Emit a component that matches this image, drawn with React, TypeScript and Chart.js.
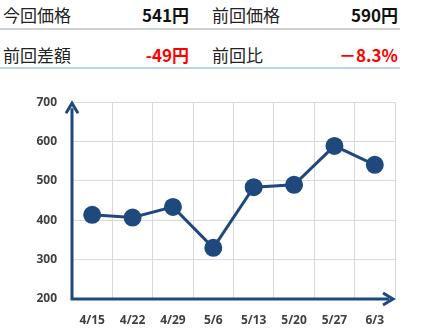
import React, { useEffect, useRef } from "react";
import { Chart, registerables } from "chart.js";

Chart.register(...registerables);

const categories = ["4/15", "4/22", "4/29", "5/6", "5/13", "5/20", "5/27", "6/3"];
const prices = [414, 407, 434, 330, 484, 490, 589, 541];
const yTicks = [200, 300, 400, 500, 600, 700];

const tableRows = [
  [
    { label: "今回価格", value: "541円", red: false },
    { label: "前回価格", value: "590円", red: false },
  ],
  [
    { label: "前回差額", value: "-49円", red: true },
    { label: "前回比", value: "－8.3%", red: true },
  ],
];

const NAVY = "#1f497d";

const arrowAxes = {
  id: "arrowAxes",
  afterDatasetsDraw(chart: any) {
    const { ctx, chartArea } = chart;
    const { left, right, top, bottom } = chartArea;
    ctx.save();
    ctx.strokeStyle = NAVY;
    ctx.fillStyle = NAVY;
    ctx.lineWidth = 3;
    ctx.lineCap = "butt";
    ctx.beginPath();
    ctx.moveTo(left, top + 6);
    ctx.lineTo(left, bottom);
    ctx.lineTo(right - 6, bottom);
    ctx.stroke();
    ctx.lineJoin = "miter";
    ctx.lineWidth = 3;
    ctx.beginPath();
    ctx.moveTo(left - 6, top + 11);
    ctx.lineTo(left, top + 1);
    ctx.lineTo(left + 6, top + 11);
    ctx.stroke();
    ctx.beginPath();
    ctx.moveTo(right - 12, bottom - 6);
    ctx.lineTo(right - 2, bottom);
    ctx.lineTo(right - 12, bottom + 6);
    ctx.stroke();
    ctx.restore();
  },
};

function PriceChart() {
  const ref = useRef<HTMLCanvasElement>(null);
  useEffect(() => {
    if (!ref.current) return;
    const chart = new Chart(ref.current, {
      type: "line",
      data: {
        labels: categories,
        datasets: [
          {
            data: prices,
            borderColor: NAVY,
            backgroundColor: NAVY,
            borderWidth: 3,
            pointRadius: 7.5,
            pointHoverRadius: 7.5,
            pointBackgroundColor: NAVY,
            pointBorderColor: NAVY,
            tension: 0,
          },
        ],
      },
      options: {
        animation: false,
        responsive: false,
        maintainAspectRatio: false,
        layout: { padding: { left: 0, right: 33, top: 22, bottom: 0 } },
        plugins: { legend: { display: false }, tooltip: { enabled: false } },
        scales: {
          x: {
            offset: true,
            grid: { offset: true, color: "#d9d9d9", lineWidth: 1, drawTicks: false },
            border: { display: false },
            ticks: {
              color: "#404040",
              font: { family: "'Open Sans', 'Noto Sans', sans-serif", size: 12, weight: "bold" },
              padding: 14,
              maxRotation: 0,
            },
            afterFit(scale: any) {
              scale.height = 35;
            },
          },
          y: {
            min: 200,
            max: 700,
            grid: { color: "#d9d9d9", lineWidth: 1, drawTicks: false },
            border: { display: false },
            afterBuildTicks(scale: any) {
              scale.ticks = yTicks.map((v) => ({ value: v }));
            },
            ticks: {
              color: "#404040",
              font: { family: "'Open Sans', 'Noto Sans', sans-serif", size: 12, weight: "bold" },
              padding: 15,
            },
            afterFit(scale: any) {
              scale.width = 72;
            },
          },
        },
      },
      plugins: [arrowAxes],
    });
    return () => chart.destroy();
  }, []);
  return (
    <canvas
      ref={ref}
      width={428}
      height={254}
      style={{ position: "absolute", left: 0, top: 80, width: 428, height: 254 }}
    />
  );
}

export default function App() {
  const rowTops = [0, 40];
  const lineColors = ["#d0d0d0", "#bcd3ec"];
  return (
    <div
      style={{
        position: "fixed",
        left: 0,
        top: 0,
        width: 428,
        height: 334,
        background: "#fff",
        fontFamily: "'Noto Sans CJK JP', 'Noto Sans', sans-serif",
        overflow: "hidden",
      }}
    >
      {tableRows.map((row, i) => (
        <div key={i}>
          {row.map((cell, j) => (
            <React.Fragment key={j}>
              <div
                style={{
                  position: "absolute",
                  left: j === 0 ? 3 : 212,
                  top: rowTops[i] + 2,
                  height: 26,
                  lineHeight: "26px",
                  fontSize: 17,
                  color: "#222",
                }}
              >
                {cell.label}
              </div>
              <div
                style={{
                  position: "absolute",
                  right: j === 0 ? 428 - 189 : 428 - 398,
                  top: rowTops[i] + 2,
                  height: 26,
                  lineHeight: "26px",
                  fontSize: 17,
                  fontWeight: "bold",
                  color: cell.red ? "#ff0000" : "#111",
                }}
              >
                {cell.value}
              </div>
            </React.Fragment>
          ))}
        </div>
      ))}
      <div style={{ position: "absolute", left: 0, top: 28, width: 400, height: 2, background: lineColors[0] }} />
      <div style={{ position: "absolute", left: 0, top: 67, width: 400, height: 2, background: lineColors[1] }} />
      <PriceChart />
    </div>
  );
}
